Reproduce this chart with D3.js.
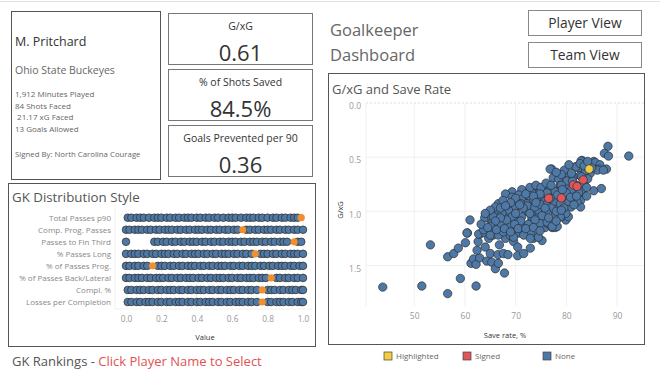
<!DOCTYPE html>
<html><head><meta charset="utf-8">
<script src="https://cdn.jsdelivr.net/npm/d3@7"></script>
<style>
html,body{margin:0;padding:0;background:#fff;}
svg{display:block;font-family:"Open Sans","Noto Sans",sans-serif;}
</style></head>
<body><svg id="c" width="660" height="370"></svg>
<script>
// ---------------- DATA ----------------
const playerName = "M. Pritchard";
const playerTeam = "Ohio State Buckeyes";
const playerStats = ["1,912 Minutes Played", "84 Shots Faced", " 21.17 xG Faced", "13 Goals Allowed"];
const signedBy = "Signed By: North Carolina Courage";

const kpiLabels = ["G/xG", "% of Shots Saved", "Goals Prevented per 90"];
const kpiValues = ["0.61", "84.5%", "0.36"];

const distCategories = ["Total Passes p90", "Comp. Prog. Passes", "Passes to Fin Third", "% Passes Long",
  "% of Passes Prog.", "% of Passes Back/Lateral", "Compl. %", "Losses per Completion"];
const distTotalPasses = [0.01,0.03,0.06,0.08,0.10,0.13,0.16,0.18,0.20,0.23,0.25,0.28,0.30,0.33,0.35,0.37,0.40,0.42,0.45,0.47,0.50,0.52,0.55,0.58,0.60,0.62,0.65,0.68,0.70,0.72,0.75,0.77,0.80,0.83,0.85,0.88,0.90,0.93,0.95,0.97];
const distCompProg = [0.0,0.02,0.05,0.07,0.09,0.12,0.14,0.17,0.19,0.22,0.24,0.26,0.29,0.31,0.34,0.36,0.39,0.41,0.43,0.46,0.48,0.51,0.53,0.56,0.58,0.61,0.63,0.68,0.70,0.73,0.75,0.78,0.80,0.82,0.85,0.87,0.90,0.92,0.95,0.97,1.0];
const distFinThird = [0.0,0.16,0.18,0.21,0.23,0.26,0.28,0.31,0.33,0.36,0.38,0.40,0.43,0.45,0.48,0.50,0.53,0.55,0.58,0.60,0.62,0.65,0.67,0.70,0.72,0.74,0.77,0.79,0.82,0.84,0.87,0.89,0.91,0.97,0.99];
const distLong = [0.0,0.03,0.05,0.07,0.10,0.12,0.15,0.17,0.20,0.22,0.24,0.27,0.29,0.32,0.34,0.37,0.39,0.41,0.44,0.46,0.49,0.51,0.54,0.56,0.58,0.61,0.63,0.66,0.68,0.71,0.76,0.78,0.80,0.83,0.85,0.88,0.90,0.93,0.95,0.97,1.0];
const distProg = [0.0,0.02,0.05,0.07,0.10,0.12,0.18,0.20,0.22,0.25,0.27,0.30,0.32,0.35,0.37,0.39,0.42,0.44,0.47,0.49,0.52,0.54,0.56,0.59,0.61,0.64,0.66,0.69,0.71,0.73,0.76,0.78,0.81,0.83,0.86,0.88,0.90,0.93,0.95,0.98,1.0];
const distBackLat = [0.0,0.02,0.05,0.07,0.09,0.12,0.14,0.17,0.19,0.21,0.24,0.26,0.29,0.31,0.34,0.36,0.38,0.41,0.43,0.46,0.48,0.51,0.53,0.55,0.58,0.60,0.63,0.65,0.68,0.70,0.72,0.75,0.77,0.79,0.85,0.87,0.90,0.92,0.95,0.97,1.0];
const distCompl = [0.01,0.03,0.06,0.08,0.10,0.13,0.15,0.18,0.20,0.23,0.25,0.27,0.30,0.32,0.35,0.37,0.40,0.42,0.44,0.47,0.49,0.52,0.54,0.57,0.59,0.61,0.64,0.66,0.69,0.71,0.74,0.80,0.82,0.84,0.87,0.89,0.92,0.94,0.96,0.99,1.0];
const distLosses = [0.01,0.03,0.06,0.08,0.11,0.13,0.15,0.18,0.20,0.23,0.25,0.28,0.30,0.32,0.35,0.37,0.40,0.42,0.45,0.47,0.49,0.52,0.54,0.57,0.59,0.62,0.64,0.66,0.69,0.71,0.74,0.80,0.82,0.85,0.87,0.89,0.92,0.94,0.97,0.99,1.0];
const distHighlight = [0.99,0.66,0.95,0.73,0.15,0.82,0.77,0.77];
const distTicks = [0.0,0.2,0.4,0.6,0.8,1.0];

const scatterNone = [
 [43.8,1.70],[51.5,1.69],[56.6,1.76],[59.1,1.62],[62.2,1.69],[67.8,1.57],[53.2,1.31],[56.6,1.42],[57.8,1.39],[58.7,1.34],
 [60.1,1.29],[60.5,1.20],[61.0,1.08],[61.2,1.48],[61.7,1.44],[62.2,1.49],[62.9,1.43],[62.4,1.36],[62.6,1.28],[63.0,1.21],
 [64.0,1.33],[64.3,1.46],[65.0,1.39],[65.3,1.47],[66.0,1.53],[66.6,1.48],[66.8,1.31],[66.5,1.40],[67.6,1.39],[68.5,1.40],
 [69.6,1.28],[70.4,1.41],[71.6,1.39],[72.9,1.34],[73.5,1.25],[75.2,1.27],[74.3,1.23],[75.8,1.15],[77.2,1.15],[77.8,1.15],
 [79.9,1.08],[62.7,1.21],[64.0,1.20],[64.7,1.25],[65.6,1.22],[68.0,1.25],[68.9,1.22],[70.6,1.20],[71.9,1.19],[72.9,1.20],
 [64.2,1.06],[66.0,1.01],[66.6,0.93],[69.6,1.24],[70.4,1.33],[76.2,1.11],[78.2,1.14],[77.8,1.03],[63.9,1.06],[65.3,1.06],
 [60.4,1.20],[63.7,1.17],[65.3,1.11],[65.0,1.22],[66.6,1.22],[69.3,1.17],[68.9,1.13],[70.9,1.11],[71.2,1.14],[73.2,1.08],
 [74.9,1.11],[76.2,1.10],[77.2,1.14],[79.1,1.05],[80.4,1.05],[69.9,1.00],[72.2,1.00],[74.2,1.02],[66.6,1.00],[65.6,1.05],
 [68.3,1.03],[70.3,1.07],[67.0,1.13],[67.6,1.19],[71.6,1.22],[72.9,1.25],[74.5,1.24],
 [88.2,0.40],[87.5,0.465],[88.3,0.49],[92.3,0.49],[85.4,0.54],[83.1,0.53],[82.9,0.535],[85.7,0.55],[86.6,0.57],[81.8,0.59],
 [82.1,0.59],[77.1,0.61],[86.4,0.61],[87.9,0.61],[86.1,0.62],[87.3,0.62],[82.9,0.62],[84.7,0.65],[77.4,0.69],[80.4,0.67],
 [79.4,0.71],[78.5,0.705],[79.6,0.62],[75.8,0.80],[74.3,0.79],[85.4,0.81],[86.9,0.79],[83.1,0.82],[82.8,0.90],[80.9,0.96],
 [82.8,0.96],[79.9,1.02],[78.8,1.05],[75.5,0.90],[72.5,0.88],[69.3,0.82],[71.2,0.80],[70.6,0.85],[68.0,0.84],[73.2,0.80],
 [73.5,0.91],[71.6,0.91],[71.9,0.99],[74.5,0.99],[69.9,0.96],[68.6,0.99],[67.3,1.02],[69.3,1.05],[71.2,1.05],[73.2,1.05],
 [77.5,1.05],[77.8,0.96],[79.8,0.87],[81.4,0.85],[80.4,0.77],[78.5,0.80],[78.5,0.90],[77.2,0.87],
 [76.8,0.61],[78.8,0.76],[80.1,0.72],[69.3,0.87],[71.2,0.89],[73.2,0.83],[74.9,0.85],[76.5,0.77],[77.8,0.82],[74.2,0.91],
 [68.3,0.94],[72.2,0.93],[80.4,0.87],[82.1,0.91],[82.4,0.83],[81.4,0.68],[82.7,0.67],[81.9,0.59],[82.7,0.56],
 [72.8,0.78],[74.0,0.76],[75.0,0.78],[76.0,0.74],[77.0,0.76],[76.2,0.83],[74.8,0.84],[73.5,0.86],[72.0,0.84],[70.0,0.88],
 [71.0,0.93],[72.3,0.95],[73.8,0.96],[75.0,0.94],[76.3,0.93],[77.5,0.91],[78.8,0.93],[79.5,0.97],[80.5,0.91],[81.5,0.94],
 [81.0,0.80],[82.0,0.76],[83.5,0.75],[84.2,0.70],[84.0,0.78],[83.0,0.68],[81.2,0.72],[79.0,0.76],[80.0,0.83],[78.2,0.85],
 [77.0,0.97],[76.0,1.00],[75.2,1.04],[73.8,1.08],[72.5,1.12],[71.0,1.09],[69.8,1.12],[68.2,1.08],[67.0,1.06],[66.0,1.09],
 [65.0,1.14],[66.2,1.17],[67.8,1.16],[69.0,1.19],[70.5,1.16],[72.0,1.16],[73.5,1.15],[74.8,1.18],[76.5,1.06],[78.0,1.00],
 [79.0,0.99],[78.0,1.09],[70.0,1.02],[71.5,0.97],[70.8,0.94],[69.0,0.92],[67.5,0.90],[66.0,0.96],[65.0,0.99],[64.0,1.02],
 [63.2,1.12],[64.5,1.15],[67.0,0.97],[68.0,0.95],[72.8,1.02],[75.8,0.97],[74.0,0.92],[76.8,0.88],[79.2,0.80],[80.8,0.87],
 [82.0,0.86],[84.0,0.86],[83.8,0.62],[85.0,0.60],[83.5,0.58],[81.0,0.65],[79.0,0.66],[78.0,0.64],[80.5,0.57],[84.2,0.54]
];
const scatterSigned = [[76.5,0.88],[79.0,0.877],[81.4,0.757],[82.1,0.77],[83.3,0.71]];
const scatterHighlighted = [[84.5,0.61]];
const scatterXTicks = [50,60,70,80,90];
const scatterYTicks = [0.0,0.5,1.0,1.5];
const legendLabels = ["Highlighted","Signed","None"];

// ---------------- DRAW ----------------
const svg = d3.select("#c");
const BLUE = "#4e79a7", RED = "#e15759", YEL = "#f1ce3f", ORANGE = "#f28e2b";

svg.append("line").attr("x1",0).attr("x2",660).attr("y1",1.5).attr("y2",1.5).attr("stroke","#e3e3e3");

// Player card
svg.append("rect").attr("x",11.5).attr("y",11.5).attr("width",149).attr("height",168).attr("fill","none").attr("stroke","#555");
svg.append("text").attr("x",15).attr("y",46).attr("font-size",12.5).attr("fill","#333").text(playerName);
svg.append("text").attr("x",15).attr("y",74).attr("font-size",10.5).attr("fill","#666").text(playerTeam);
svg.selectAll(".ps").data(playerStats).join("text").attr("class","ps")
  .attr("x",15).attr("y",(d,i)=>97+i*11.7).attr("font-size",8).attr("fill","#666")
  .attr("xml:space","preserve").style("white-space","pre").text(d=>d);
svg.append("text").attr("x",15).attr("y",157).attr("font-size",7.8).attr("fill","#666").text(signedBy);

// KPI boxes
const kpiTops = [13.5, 69.5, 125.5];
kpiLabels.forEach((lab,i)=>{
  const g = svg.append("g");
  g.append("rect").attr("x",168.5).attr("y",kpiTops[i]).attr("width",144).attr("height",51).attr("fill","none").attr("stroke","#777");
  g.append("text").attr("x",240.5).attr("y",kpiTops[i]+16).attr("text-anchor","middle").attr("font-size",10.5).attr("fill","#333").text(lab);
  g.append("text").attr("x",240.5).attr("y",kpiTops[i]+47).attr("text-anchor","middle").attr("font-size",22).attr("fill","#333").text(kpiValues[i]);
});

// Title
svg.append("text").attr("x",330).attr("y",36).attr("font-size",16.5).attr("fill","#666").text("Goalkeeper");
svg.append("text").attr("x",330).attr("y",61).attr("font-size",16.5).attr("fill","#666").text("Dashboard");

// Buttons
[["Player View",10.5],["Team View",42.5]].forEach(([t,y])=>{
  svg.append("rect").attr("x",528.5).attr("y",y).attr("width",113).attr("height",25).attr("fill","#fff").attr("stroke","#888");
  svg.append("text").attr("x",585).attr("y",y+17.5).attr("text-anchor","middle").attr("font-size",13.8).attr("fill","#333").text(t);
});

// ---------- Scatter panel ----------
svg.append("rect").attr("x",328.5).attr("y",73.5).attr("width",316).attr("height",271).attr("fill","none").attr("stroke","#555");
svg.append("text").attr("x",332).attr("y",94).attr("font-size",13).attr("fill","#555").text("G/xG and Save Rate");

const sx = d3.scaleLinear().domain([40.5,95.5]).range([366,645]);
const sy = d3.scaleLinear().domain([0,1.88]).range([103,306.6]);
const sg = svg.append("g");
sg.selectAll(".vg").data(scatterXTicks).join("line").attr("x1",d=>sx(d)).attr("x2",d=>sx(d)).attr("y1",103).attr("y2",306.6).attr("stroke","#f0f0f0");
sg.selectAll(".hg").data(scatterYTicks.filter(d=>d>0)).join("line").attr("x1",366).attr("x2",644).attr("y1",d=>sy(d)).attr("y2",d=>sy(d)).attr("stroke","#f0f0f0");
sg.append("line").attr("x1",366).attr("x2",644).attr("y1",sy(0)).attr("y2",sy(0)).attr("stroke","#ddd").attr("stroke-dasharray","2,2");
sg.append("line").attr("x1",366).attr("x2",366).attr("y1",103).attr("y2",306.6).attr("stroke","#f0f0f0");

const xAx = d3.axisBottom(sx).tickValues(scatterXTicks).tickSize(0).tickPadding(6).tickFormat(d3.format("d"));
const gx = svg.append("g").attr("transform","translate(0,307)").call(xAx);
gx.select(".domain").remove();
gx.selectAll("text").attr("font-size",8.5).attr("fill","#999").attr("font-family","Open Sans");
const yAx = d3.axisLeft(sy).tickValues(scatterYTicks).tickSize(0).tickPadding(5).tickFormat(d3.format(".1f"));
const gy = svg.append("g").attr("transform","translate(366,3)").call(yAx);
gy.select(".domain").remove();
gy.selectAll("text").attr("font-size",8.5).attr("fill","#999").attr("font-family","Open Sans");

svg.append("text").attr("x",505).attr("y",338).attr("text-anchor","middle").attr("font-size",7.5).attr("fill","#333").text("Save rate, %");
svg.append("text").attr("transform","translate(343,210) rotate(-90)").attr("text-anchor","middle").attr("font-size",7.5).attr("fill","#333").text("G/xG");

const drawPts = (data,col)=> svg.append("g").selectAll("circle").data(data).join("circle")
  .attr("cx",d=>sx(d[0])).attr("cy",d=>sy(d[1])).attr("r",4.2)
  .attr("fill",col).attr("stroke","#2a2a2a").attr("stroke-width",0.8).attr("stroke-opacity",0.85);
drawPts(scatterNone,BLUE);
drawPts(scatterSigned,RED);
drawPts(scatterHighlighted,YEL);

// legend
const legCols = [YEL,RED,BLUE];
const legX = [384,463,543];
legendLabels.forEach((l,i)=>{
  svg.append("rect").attr("x",legX[i]).attr("y",352).attr("width",8).attr("height",8).attr("fill",legCols[i]).attr("stroke","#444").attr("stroke-width",0.7);
  svg.append("text").attr("x",legX[i]+12).attr("y",359).attr("font-size",8).attr("fill","#666").text(l);
});

// ---------- Distribution panel ----------
svg.append("rect").attr("x",8.5).attr("y",183.5).attr("width",307).attr("height",163).attr("fill","none").attr("stroke","#555");
svg.append("text").attr("x",12).attr("y",202).attr("font-size",13.3).attr("fill","#555").text("GK Distribution Style");

const dx = d3.scaleLinear().domain([0,1]).range([126,303]);
const dy = d3.scalePoint().domain(distCategories).range([217.7,302]);
const dg = svg.append("g");
dg.selectAll(".dvg").data(distTicks).join("line").attr("x1",d=>dx(d)).attr("x2",d=>dx(d)).attr("y1",209).attr("y2",309).attr("stroke","#f3f3f3");
dg.append("line").attr("x1",115).attr("x2",115).attr("y1",209).attr("y2",309).attr("stroke","#f0f0f0");
dg.append("line").attr("x1",115).attr("x2",313).attr("y1",309).attr("y2",309).attr("stroke","#f0f0f0");

const dxAx = d3.axisBottom(dx).tickValues(distTicks).tickSize(0).tickPadding(6).tickFormat(d3.format(".1f"));
const gdx = svg.append("g").attr("transform","translate(0,310)").call(dxAx);
gdx.select(".domain").remove();
gdx.selectAll("text").attr("font-size",8.3).attr("fill","#999").attr("font-family","Open Sans");
const dyAx = d3.axisLeft(dy).tickSize(0).tickPadding(4);
const gdy = svg.append("g").attr("transform","translate(115,0)").call(dyAx);
gdy.select(".domain").remove();
gdy.selectAll("text").attr("font-size",8).attr("fill","#888").attr("font-family","Open Sans");
svg.append("text").attr("x",205).attr("y",340).attr("text-anchor","middle").attr("font-size",7.5).attr("fill","#333").text("Value");

const distRows = [distTotalPasses,distCompProg,distFinThird,distLong,distProg,distBackLat,distCompl,distLosses];
distRows.forEach((vals,i)=>{
  const cat = distCategories[i];
  svg.append("g").selectAll("circle").data(vals).join("circle")
    .attr("cx",d=>dx(d)).attr("cy",dy(cat)).attr("r",3.8)
    .attr("fill",BLUE).attr("stroke","#333").attr("stroke-width",0.8);
  svg.append("circle").attr("cx",dx(distHighlight[i])).attr("cy",dy(cat)).attr("r",3.6).attr("fill",ORANGE);
});

// GK Rankings
const rk = svg.append("text").attr("x",12).attr("y",366).attr("font-size",13).attr("font-family","Open Sans");
rk.append("tspan").attr("fill","#555").text("GK Rankings - ");
rk.append("tspan").attr("fill","#e05252").text("Click Player Name to Select");
</script></body></html>
